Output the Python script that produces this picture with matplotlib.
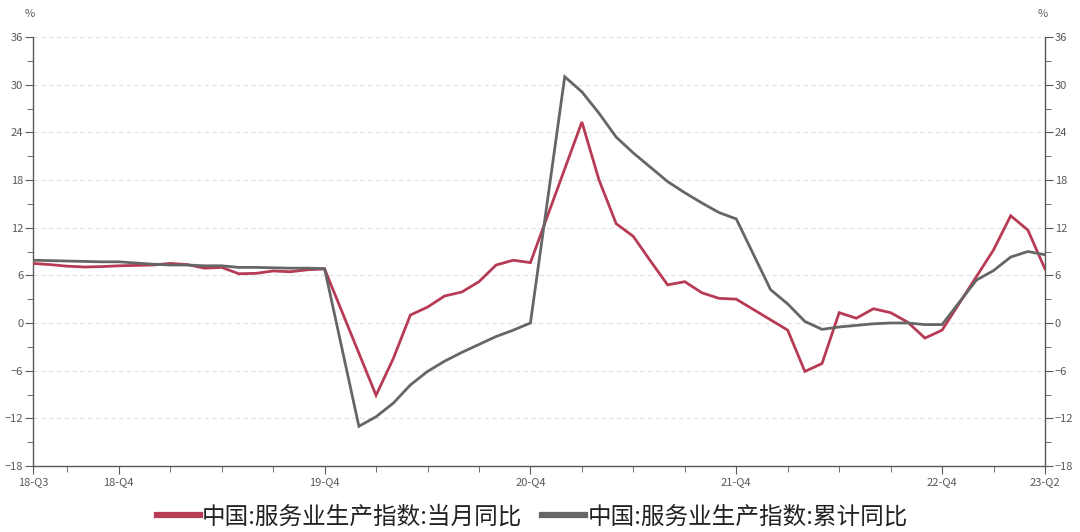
import numpy as np
import matplotlib
matplotlib.use("Agg")
import matplotlib.pyplot as plt
from matplotlib.lines import Line2D
from matplotlib.ticker import FixedLocator, MultipleLocator

plt.rcParams['font.family'] = ['Noto Sans CJK SC', 'DejaVu Sans']

nan = np.nan
# monthly, 2018-07 .. 2023-06
monthly_yoy = [
    7.5, 7.35, 7.15, 7.05, 7.1, 7.2,                                   # 2018 Jul-Dec
    nan, 7.3, 7.5, 7.35, 6.9, 7.0, 6.2, 6.25, 6.55, 6.45, 6.7, 6.8,   # 2019
    nan, nan, -9.1, -4.5, 1.0, 2.0, 3.4, 3.9, 5.2, 7.3, 7.9, 7.6,     # 2020
    nan, nan, 25.3, 18.0, 12.5, 10.9, 7.8, 4.8, 5.2, 3.8, 3.1, 3.0,   # 2021
    nan, nan, -0.9, -6.1, -5.1, 1.3, 0.6, 1.8, 1.3, 0.1, -1.9, -0.9,  # 2022
    nan, nan, 9.2, 13.5, 11.7, 6.8,                                    # 2023 Jan-Jun
]
cumulative_yoy = [
    7.9, 7.85, 7.8, 7.75, 7.7, 7.7,
    nan, 7.4, 7.3, 7.3, 7.2, 7.2, 7.0, 7.0, 6.95, 6.9, 6.9, 6.85,
    nan, -13.0, -11.8, -10.1, -7.8, -6.1, -4.8, -3.7, -2.7, -1.7, -0.9, 0.0,
    nan, 31.0, 29.1, 26.4, 23.4, 21.4, 19.6, 17.8, 16.4, 15.1, 13.9, 13.1,
    nan, 4.2, 2.4, 0.2, -0.8, -0.5, -0.3, -0.1, 0.0, 0.0, -0.2, -0.2,
    nan, 5.4, 6.6, 8.3, 9.0, 8.6,
]
tick_pos = [0, 5, 17, 29, 41, 53, 59]
tick_labels = ['18-Q3', '18-Q4', '19-Q4', '20-Q4', '21-Q4', '22-Q4', '23-Q2']
series_names = ['中国:服务业生产指数:当月同比', '中国:服务业生产指数:累计同比']
colors = ['#B83B55', '#666666']

fig = plt.figure(figsize=(10.8, 5.32), dpi=100)
ax = fig.add_axes([33/1080, 1-466/532, (1045-33)/1080, (466-37)/532])

x = np.arange(len(monthly_yoy))
for vals, c in zip([monthly_yoy, cumulative_yoy], colors):
    v = np.array(vals, dtype=float)
    m = ~np.isnan(v)
    ax.plot(x[m], v[m], color=c, lw=2.0, solid_joinstyle='miter', zorder=3)

ax.set_xlim(0, 59)
ax.set_ylim(-18, 36)
ax.xaxis.set_major_locator(FixedLocator(tick_pos))
ax.set_xticklabels(tick_labels)
ax.xaxis.set_minor_locator(FixedLocator(list(range(2, 60, 3))))
ax.yaxis.set_major_locator(MultipleLocator(6))
ax.yaxis.set_minor_locator(MultipleLocator(3))

spine_c = '#595959'
for s in ['left', 'right', 'bottom']:
    ax.spines[s].set_color(spine_c)
    ax.spines[s].set_linewidth(1.0)
ax.spines['top'].set_visible(False)

ax.tick_params(axis='y', which='both', left=True, right=True, labelleft=True, labelright=True,
               direction='out', color=spine_c, labelcolor='#595959', labelsize=8, pad=1)
ax.tick_params(axis='y', which='major', length=6)
ax.tick_params(axis='y', which='minor', length=4)
ax.tick_params(axis='x', which='both', direction='out', color=spine_c, labelcolor='#595959',
               labelsize=8, pad=2)
ax.tick_params(axis='x', which='major', length=6)
ax.tick_params(axis='x', which='minor', length=4)

ax.yaxis.grid(True, which='major', color='#E0E0E0', linestyle=(0, (4, 3)), linewidth=0.8)
ax.set_axisbelow(True)

fig.text(30/1080, 1-14/532, '%', ha='center', va='center', fontsize=8, color='#595959')
fig.text(1043/1080, 1-14/532, '%', ha='center', va='center', fontsize=8, color='#595959')

handles = [Line2D([0], [0], color=c, lw=4.5) for c in colors]
fig.legend(handles, series_names, loc='center', bbox_to_anchor=(0.493, 1-517/532), ncol=2,
           frameon=False, fontsize=17, handlelength=1.8, handletextpad=0.1,
           columnspacing=0.85, labelcolor='#222222')

fig.savefig('out.png', dpi=100)
